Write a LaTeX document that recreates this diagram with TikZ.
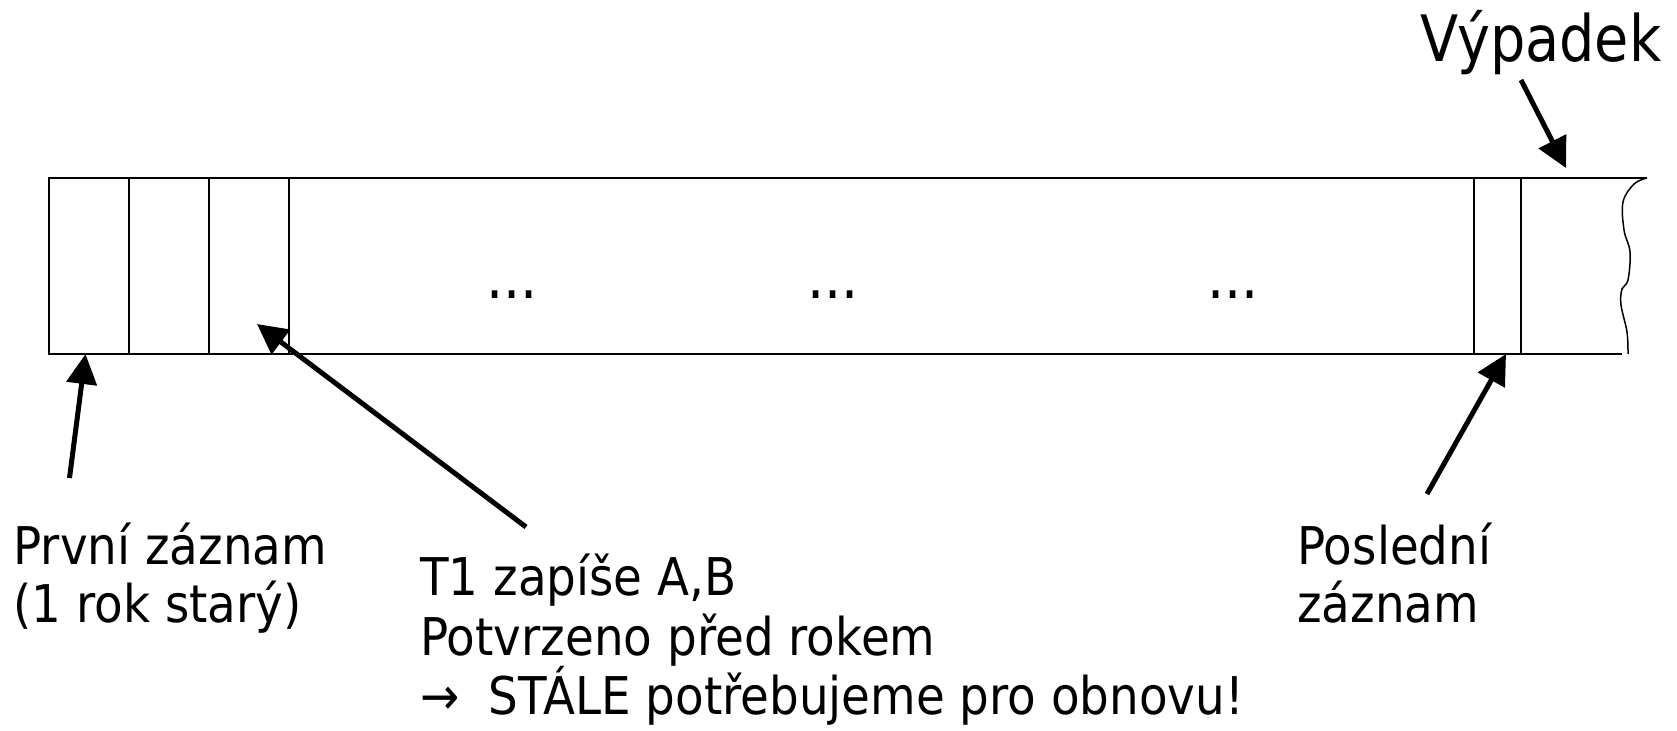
\documentclass[tikz,border=0pt]{standalone}
\usepackage{fontspec}
\setmainfont{DejaVu Sans}[FakeStretch=0.87]
\newfontfamily\lblfont{DejaVu Sans}[FakeStretch=0.9]
\usetikzlibrary{arrows.meta}
\begin{document}
\begin{tikzpicture}[x=0.5pt,y=-0.5pt,
  lbl/.style={font=\lblfont\fontsize{26}{30}\selectfont, inner sep=0pt, anchor=base west},
  biglbl/.style={font=\fontsize{32}{36}\selectfont, inner sep=0pt, anchor=base west},
  dotsl/.style={font=\fontsize{31}{34}\selectfont, inner sep=0pt, anchor=base},
  ptr/.style={line width=2.5pt, -{Triangle[length=15pt,width=15pt]}},
  boxline/.style={line width=0.85pt},
  divline/.style={line width=0.65pt}]
\useasboundingbox (0,0) rectangle (1677,731);
% log strip
\coordinate (tl) at (49,178);
\coordinate (bl) at (49,354);
\coordinate (tr) at (1647,178);
\coordinate (br) at (1622,354);
\draw[boxline] (tr) -- (tl) -- (bl) -- (br);
\foreach \x in {129,209,289,1474,1521}
  \draw[divline] (\x,178) -- (\x,354);
% torn right edge
\draw[line width=0.75pt] plot[smooth, tension=0.6] coordinates {(1647,178) (1634,184) (1623,202) (1624,230) (1630,252) (1628,280) (1622,289) (1621,305) (1627,332) (1628,354)};
% dots
\node[dotsl] (d1) at (512,299) {...};
\node[dotsl] (d2) at (833,299) {...};
\node[dotsl] (d3) at (1233,299) {...};
% labels
\node[biglbl] (vyp) at (1420,62) {Výpadek};
\node[lbl] (prv1) at (13,565) {První záznam};
\node[lbl] (prv2) at (13,623) {(1 rok starý)};
\node[lbl] (t1a) at (420,596) {T1 zapíše A,B};
\node[lbl] (t1b) at (420,656) {Potvrzeno před rokem};
\node[lbl] (t1c) at (420,715) {→\hspace{7pt} STÁLE potřebujeme pro obnovu!};
\node[lbl] (pos1) at (1297,565) {Poslední};
\node[lbl] (pos2) at (1297,623) {záznam};
% arrows
\coordinate (a1s) at (69.5,478);
\coordinate (a1e) at (85.5,354);
\coordinate (a2s) at (526,527);
\coordinate (a2e) at (257,324);
\coordinate (a3s) at (1427,494);
\coordinate (a3e) at (1506,354);
\coordinate (a4s) at (1521,80);
\coordinate (a4e) at (1566,168);
\draw[ptr] (a1s) -- (a1e);
\draw[ptr] (a2s) -- (a2e);
\draw[ptr] (a3s) -- (a3e);
\draw[ptr] (a4s) -- (a4e);
\end{tikzpicture}
\end{document}
